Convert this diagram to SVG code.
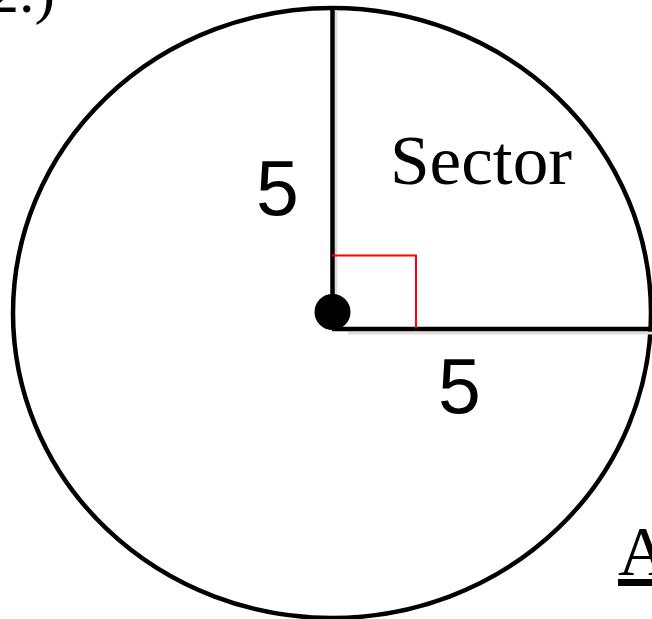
<svg xmlns="http://www.w3.org/2000/svg" width="652" height="619" viewBox="0 0 652 619">
<defs>
<style>
.blk{stroke:#000;fill:none;stroke-width:4.5}
.red{stroke:#ff0000;fill:none;stroke-width:2}
.num{font-family:"Liberation Sans",Arial,sans-serif;font-size:77px;fill:#000}
.ser{font-family:"Liberation Serif","Times New Roman",serif;fill:#000}
</style>
</defs>
<rect width="652" height="619" fill="#fff"/>
<g id="circle">
<ellipse cx="332" cy="313" rx="319" ry="305" class="blk" stroke-width="4"/>
</g>
<g id="connectors">
<line x1="336" y1="10" x2="336" y2="300" stroke="#ddd" stroke-width="3"/>
<line x1="348" y1="333" x2="652" y2="333" stroke="#ddd" stroke-width="3"/>
<line x1="332.5" y1="8" x2="332.5" y2="313" class="blk"/>
<line x1="332" y1="329" x2="652" y2="329" class="blk"/>
<polyline points="332,255.5 416,255.5 416,328" class="red"/>
</g>
<g id="center">
<circle cx="332.5" cy="312" r="18" fill="#000"/>
</g>
<g id="labels">
<text x="256" y="215" class="num">5</text>
<text x="438" y="413" class="num">5</text>
<text x="390" y="184" class="ser" font-size="70" textLength="182" lengthAdjust="spacingAndGlyphs">Sector</text>
<text x="-12" y="12" class="ser" font-size="62">2.)</text>
<text x="618" y="575" class="ser" font-size="70" text-decoration="underline">A</text>
</g>
</svg>
